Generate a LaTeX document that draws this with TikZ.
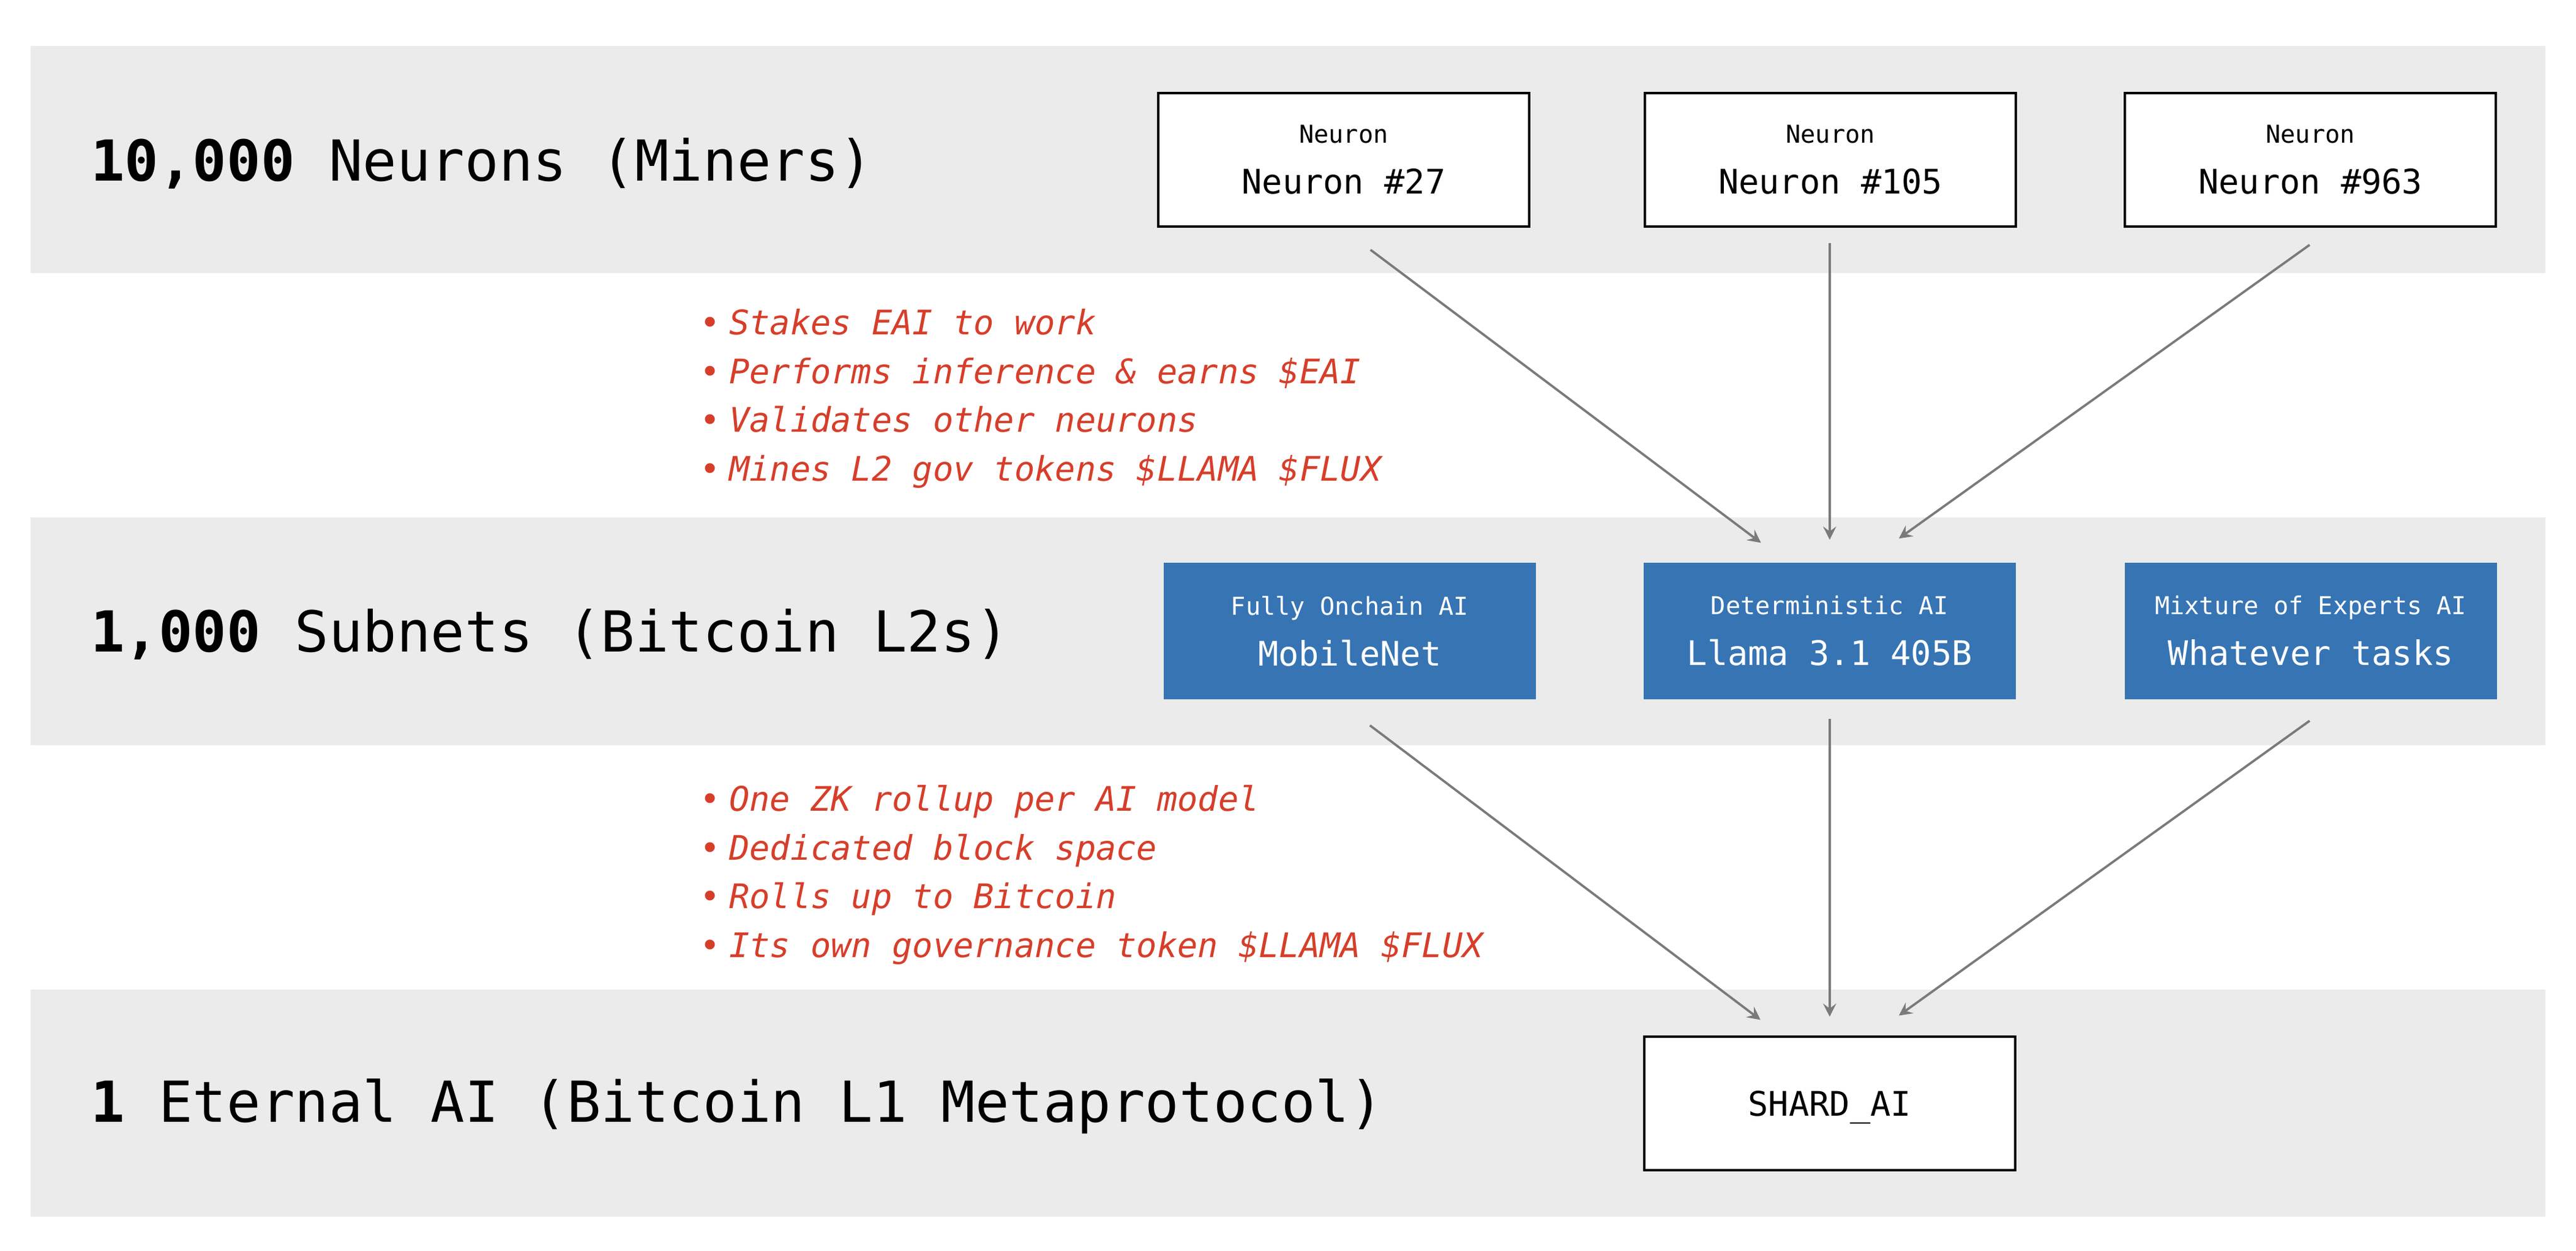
\documentclass[tikz,border=0pt]{standalone}
\usepackage{fontspec}
\setmainfont{DejaVu Sans Mono}
\usetikzlibrary{calc}
\usetikzlibrary{arrows.meta}
\definecolor{cTier}{RGB}{235, 235, 235}
\definecolor{cSubnet}{RGB}{54, 116, 180}
\definecolor{cNote}{RGB}{214, 62, 42}
\colorlet{cFlow}{black!52!white}
\tikzset{
    tierTitle/.style={
        anchor=base west,
        inner sep=0,
        font=\fontsize{34.4}{42}\selectfont
    },
    noteItem/.style={
        anchor=base west,
        inner sep=0,
        color=cNote,
        font=\fontsize{20.6}{25}\selectfont\itshape
    },
    nodeNeuron/.style={
        draw=black,
        line width=1.5pt,
        fill=white,
        minimum width=225.7pt,
        minimum height=81.3pt,
        inner sep=0,
        align=center,
        font=\fontsize{20.6}{30.9}\selectfont
    },
    nodeSubnet/.style={
        fill=cSubnet,
        text=white,
        minimum width=226.5pt,
        minimum height=82.8pt,
        inner sep=0,
        align=center,
        font=\fontsize{20.6}{30.9}\selectfont
    },
    nodeCore/.style={
        draw=black,
        line width=1.5pt,
        fill=white,
        minimum width=225.7pt,
        minimum height=81.3pt,
        inner sep=0,
        text depth=0pt,
        font=\fontsize{20.6}{30.9}\selectfont
    },
    edgeFlow/.style={
        arrows={-Stealth[length=8pt,width=8pt,inset=3pt]},
        color=cFlow,
        line width=1.4pt
    },
}
\newcommand{\kindLabel}[1]{{\fontsize{15}{30.9}\selectfont #1}}
\newcommand{\noteDot}{\textbullet\hspace{5.5pt}}

\begin{document}
\begin{tikzpicture}[x=1pt,y=-1pt]
    \useasboundingbox (0,0) rectangle (1568,760.9);

    \pgfdeclarelayer{background}
    \pgfsetlayers{background,main}

    \node[tierTitle] (tier1) at (55,110) {\textbf{10,000} Neurons (Miners)};
    \node[tierTitle] (tier2) at (55,396.5) {\textbf{1,000} Subnets (Bitcoin L2s)};
    \node[tierTitle] (tier3) at (55,683) {\textbf{1} Eternal AI (Bitcoin L1 Metaprotocol)};

    \node[nodeNeuron] (n27) at (817.9,97.2) {\kindLabel{Neuron}\\Neuron \#27};
    \node[nodeNeuron] (n105) at (1114.2,97.2) {\kindLabel{Neuron}\\Neuron \#105};
    \node[nodeNeuron] (n963) at (1406.35,97.2) {\kindLabel{Neuron}\\Neuron \#963};

    \node[nodeSubnet] (mobilenet) at (821.55,384) {\kindLabel{Fully Onchain AI}\\MobileNet};
    \node[nodeSubnet] (llama) at (1113.7,384) {\kindLabel{Deterministic AI}\\Llama 3.1 405B};
    \node[nodeSubnet] (moe) at (1406.55,384) {\kindLabel{Mixture of Experts AI}\\Whatever tasks};

    \node[nodeCore] (shard) at (1113.7,671.5) {SHARD\_AI};

    \node[noteItem] (stakeNote) at (425.8,203.7) {\noteDot Stakes EAI to work};
    \node[noteItem] (inferNote) at (425.8,233.4) {\noteDot Performs inference \& earns \$EAI};
    \node[noteItem] (validNote) at (425.8,263.0) {\noteDot Validates other neurons};
    \node[noteItem] (mineNote) at (425.8,292.7) {\noteDot Mines L2 gov tokens \$LLAMA \$FLUX};

    \node[noteItem] (rollupNote) at (425.8,493.5) {\noteDot One ZK rollup per AI model};
    \node[noteItem] (blockNote) at (425.8,523.2) {\noteDot Dedicated block space};
    \node[noteItem] (bitcoinNote) at (425.8,552.8) {\noteDot Rolls up to Bitcoin};
    \node[noteItem] (tokenNote) at (425.8,582.5) {\noteDot Its own governance token \$LLAMA \$FLUX};

    \draw[edgeFlow] ($(n27.south)+(16.3,13.4)$) -- ($(llama.north)+(-41.8,-12.1)$);
    \draw[edgeFlow] ($(n105.south)+(-0.5,9.4)$) -- ($(llama.north)+(0,-14)$);
    \draw[edgeFlow] ($(n963.south)+(-0.5,10.4)$) -- ($(llama.north)+(42.1,-14.7)$);

    \draw[edgeFlow] ($(mobilenet.south)+(12.3,15.8)$) -- ($(shard.north)+(-42.1,-9.5)$);
    \draw[edgeFlow] ($(llama.south)+(0,12)$) -- ($(shard.north)+(0,-11.4)$);
    \draw[edgeFlow] ($(moe.south)+(-0.7,13)$) -- ($(shard.north)+(42.1,-12.1)$);

    \begin{pgfonlayer}{background}
        \fill[white] (0,0) rectangle (1568,760.9);
        \newcommand{\tierband}[1]{\fill[cTier] (18.8,#1) rectangle ++(1530.5,138.3);}

        \foreach \y in {27.9,315,602.1}
        {
            \tierband{\y};
        }
    \end{pgfonlayer}
\end{tikzpicture}
\end{document}
